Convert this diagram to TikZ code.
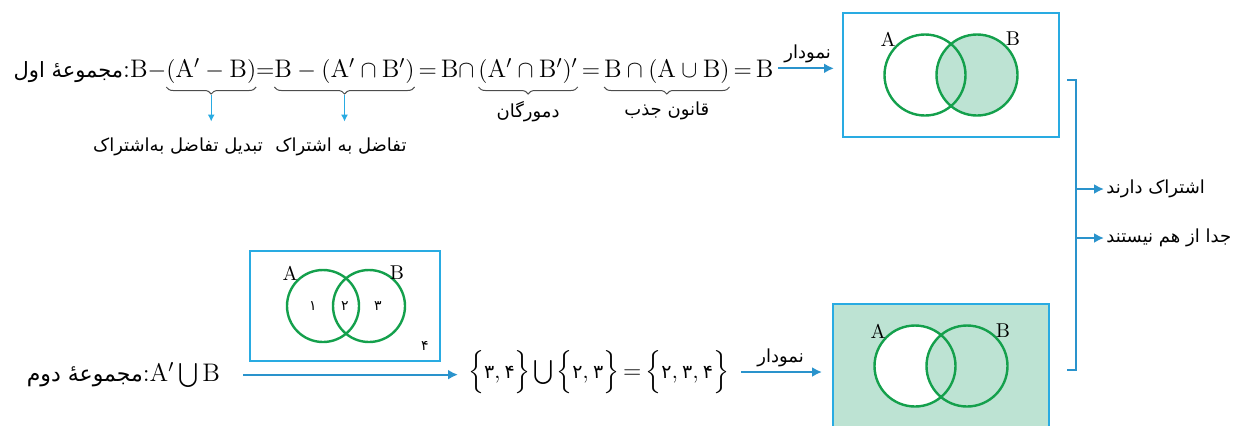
\documentclass[tikz,border=0pt]{standalone}
\usepackage{amsmath}
\usepackage{fontspec}
\usetikzlibrary{arrows.meta,positioning,calc,decorations.pathreplacing}
\newfontfamily\fa[Script=Arabic]{DejaVu Sans}
\TeXXeTstate=1
\definecolor{boxblue}{HTML}{29ABE2}
\definecolor{arrowblue}{HTML}{2A93CC}
\definecolor{venngreen}{HTML}{14A04C}
\definecolor{vennfill}{HTML}{BDE3D3}
\newcommand{\fatext}[1]{{\fa\beginR #1\endR}}
\newcommand{\fadig}[1]{\text{\fa\fontsize{9.5}{11}\selectfont #1}}

\begin{document}
\begin{tikzpicture}[
  x=0.5pt, y=-0.5pt,
  lbl/.style={font=\fontsize{9}{11}\selectfont, inner sep=1pt},
  piece/.style={inner sep=0pt, outer sep=0pt, font=\fontsize{12.7}{15}\selectfont},
  frame/.style={draw=boxblue, line width=1pt, minimum width=108pt, minimum height=62pt, inner sep=0pt},
  venn/.style={draw=venngreen, line width=1.2pt},
  setname/.style={font=\fontsize{10}{12}\selectfont, inner sep=0pt},
  num/.style={font=\fa\fontsize{7}{8}\selectfont, inner sep=0pt},
  arr/.style={draw=arrowblue, line width=1pt, -{Latex[length=5pt,width=5pt]}},
  sarr/.style={draw=boxblue, line width=0.6pt, -{Latex[length=3.5pt,width=3.5pt]}},
  brc/.style={decorate, decoration={brace,mirror,amplitude=3.5pt}, draw=black!70, line width=0.5pt},
  brk/.style={draw=arrowblue, line width=0.8pt}
]
\useasboundingbox (0,0) rectangle (1237,425);

% first set: the chain of equalities
\node[piece, anchor=base west] (f1) at (130,77) {$\mathrm{B}-$};
\node[piece, base left=0pt of f1] (t1) {{\fontsize{10.5}{12}\selectfont\fatext{مجموعهٔ اول}}:};
\node[piece, base right=0pt of f1] (f2) {$(\mathrm{A}'-\mathrm{B})$};
\node[piece, base right=0pt of f2] (f3) {${=}$};
\node[piece, base right=0pt of f3] (f4) {$\mathrm{B}-(\mathrm{A}'\cap\mathrm{B}')$};
\node[piece, base right=0pt of f4] (f5) {$\,{=}\,\mathrm{B}\cap\,$};
\node[piece, base right=0pt of f5] (f6) {$(\mathrm{A}'\cap\mathrm{B}')'$};
\node[piece, base right=0pt of f6] (f7) {$\,{=}\,$};
\node[piece, base right=0pt of f7] (f8) {$\mathrm{B}\cap(\mathrm{A}\cup\mathrm{B})$};
\node[piece, base right=0pt of f8] (f9) {$\,{=}\,\mathrm{B}$};

% braces under the steps
\foreach \p/\k in {f2/k1, f4/k2, f6/k3, f8/k4}{
  \draw[brc] ([yshift=-2pt]\p.south west) -- ([yshift=-2pt]\p.south east);
  \coordinate (\k) at ([yshift=-6pt]\p.south);
}
\node[lbl] (n1) at (178,147) {\fatext{تبدیل تفاضل به‌اشتراک}};
\node[lbl] (n2) at (341,147) {\fatext{تفاضل به اشتراک}};
\node[lbl, below=2pt of k3] (n3) {\fatext{دمورگان}};
\node[lbl, below=2pt of k4] (n4) {\fatext{قانون جذب}};
\draw[sarr, shorten >=7pt] (k1) -- (k1 |- n1.north);
\draw[sarr, shorten >=7pt] (k2) -- (k2 |- n2.north);

% diagram of the first set
\node[frame] (box1) at (951,75) {};
\fill[vennfill] ($(box1)+(26,0)$) circle[radius=20.25pt];
\draw[venn] ($(box1)+(-26,0)$) circle[radius=20.25pt];
\draw[venn] ($(box1)+(26,0)$) circle[radius=20.25pt];
\node[setname] (a1) at ($(box1)+(-63,-36)$) {A};
\node[setname] (b1) at ($(box1)+(62,-36)$) {B};
\draw[arr, shorten <=2.5pt, shorten >=4pt] (f9.east) -- node[lbl, above=1pt] (d1) {\fatext{نمودار}} (f9.east -| box1.west);

% second set
\node[piece, anchor=base east] (s2) at (220,381) {{\fontsize{11}{13}\selectfont\fatext{مجموعهٔ دوم}}:$\mathrm{A}'\bigcup\mathrm{B}$};
\node[frame, minimum width=95pt, minimum height=55pt] (box3) at (345,306) {};
\draw[venn] ($(box3)+(-22,0)$) circle[radius=18pt];
\draw[venn] ($(box3)+(24,0)$) circle[radius=18pt];
\node[setname] (a3) at ($(box3)+(-55,-33)$) {A};
\node[setname] (b3) at ($(box3)+(52,-33)$) {B};
\node[num] (r1) at ($(box3)+(-32,0)$) {۱};
\node[num] (r2) at ($(box3)+(0,0)$) {۲};
\node[num] (r3) at ($(box3)+(33,0)$) {۳};
\node[num] (r4) at ($(box3)+(80,40)$) {۴};

\node[piece, anchor=west] (u1) at (468,372) {$\Big\{\fadig{۳},\fadig{۴}\Big\}\mkern2mu{\bigcup}\mkern2mu\Big\{\fadig{۲},\fadig{۳}\Big\}\,{=}\,\Big\{\fadig{۲},\fadig{۳},\fadig{۴}\Big\}$};
\draw[arr, shorten <=11.5pt, shorten >=5pt] (s2.east) -- (s2.east -| u1.west);

% diagram of the second set
\node[frame, fill=vennfill] (box2) at (941,366) {};
\fill[white] ($(box2)+(-26,0)$) circle[radius=20.25pt];
\begin{scope}
  \clip ($(box2)+(-26,0)$) circle[radius=20.25pt];
  \fill[vennfill] ($(box2)+(26,0)$) circle[radius=20.25pt];
\end{scope}
\draw[venn] ($(box2)+(-26,0)$) circle[radius=20.25pt];
\draw[venn] ($(box2)+(26,0)$) circle[radius=20.25pt];
\node[setname] (a2) at ($(box2)+(-63,-35)$) {A};
\node[setname] (b2) at ($(box2)+(62,-35)$) {B};
\draw[arr, shorten <=6pt, shorten >=5pt] (u1.east) -- node[lbl, above=1pt] (d2) {\fatext{نمودار}} (u1.east -| box2.west);

% both results are equal
\coordinate (bt) at (1067,80);
\coordinate (bb) at (1067,370);
\draw[brk] (bt) -| ($(bb)+(9,0)$) -- (bb);
\coordinate (j1) at (1076,189);
\coordinate (j2) at (1076,238);
\node[lbl, anchor=west] (c1) at (1104,189) {\fatext{اشتراک دارند}};
\node[lbl, anchor=west] (c2) at (1104,238) {\fatext{جدا از هم نیستند}};
\draw[arr] (j1) -- (c1.west);
\draw[arr] (j2) -- (c2.west);
\end{tikzpicture}
\end{document}
